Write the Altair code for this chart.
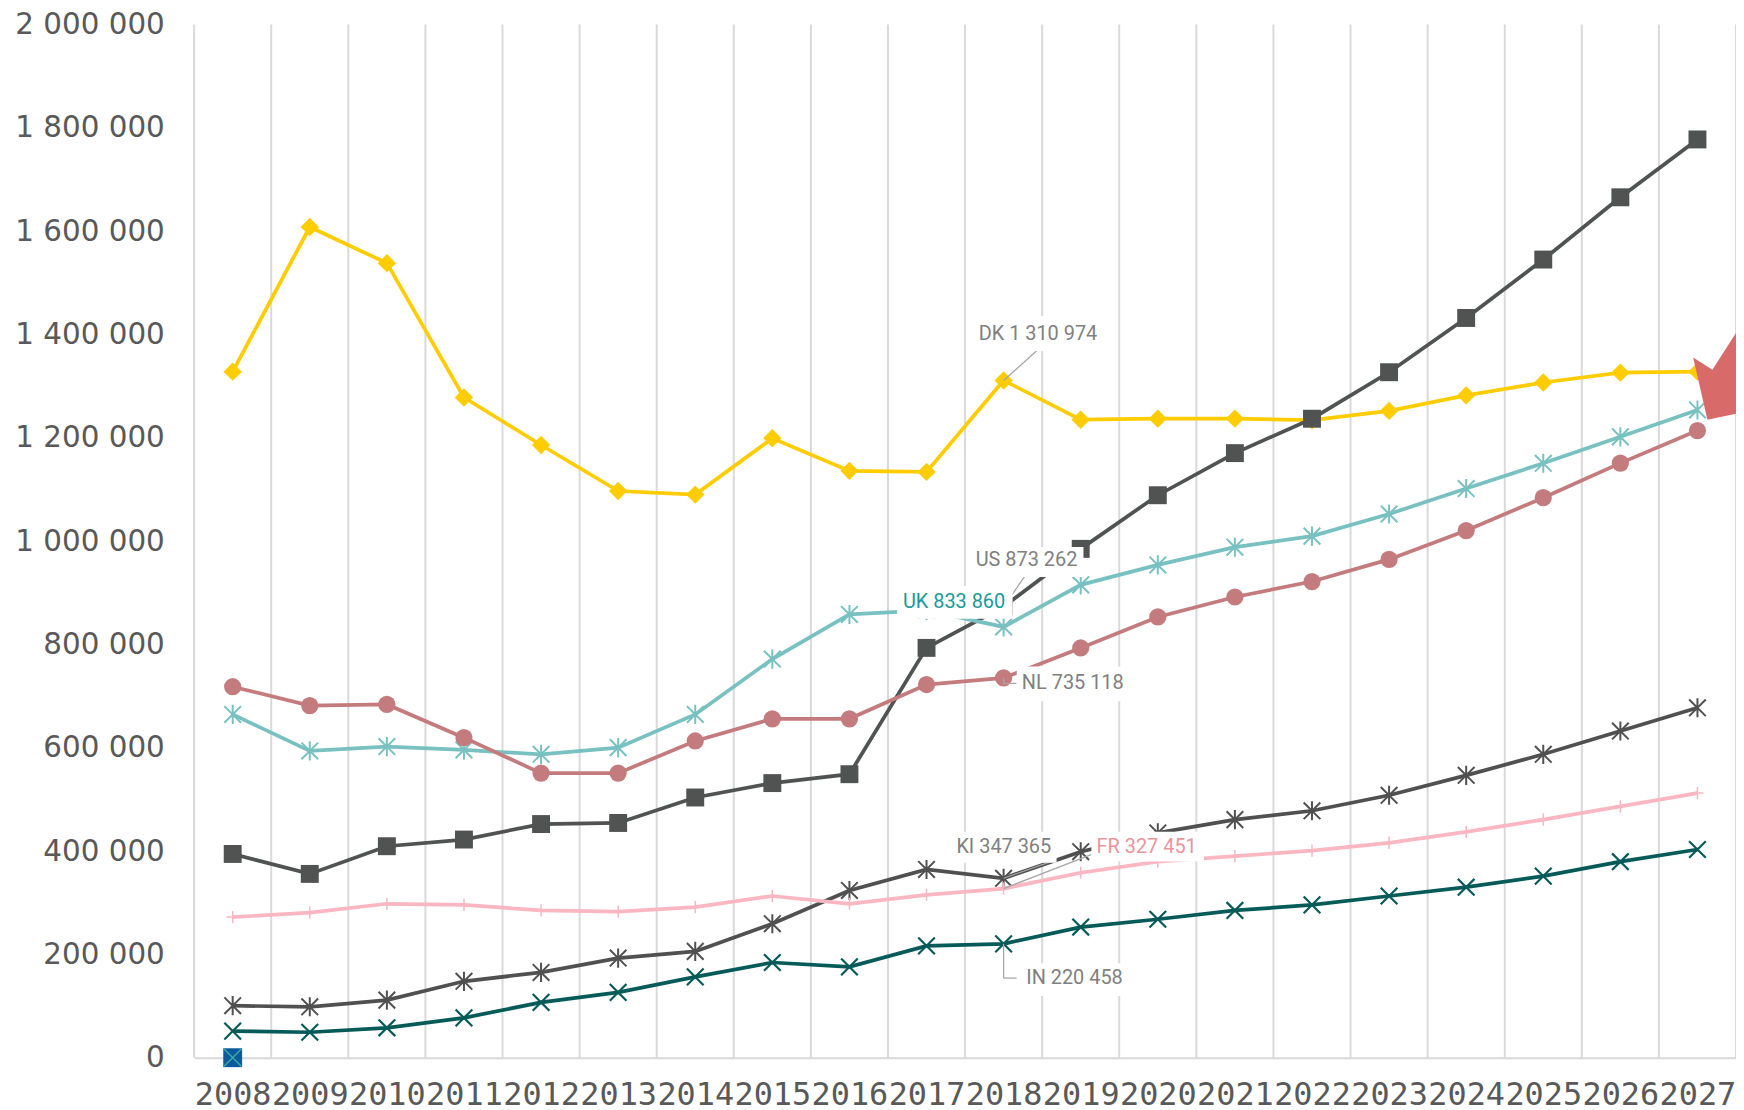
import altair as alt
import pandas as pd

# ---------------- data ----------------
YEARS = list(range(2008, 2028))

DK = [1328000, 1608000, 1538000, 1278000, 1186000, 1097000, 1090000, 1199000, 1136000, 1134000,
      1310974, 1235000, 1237000, 1237000, 1234000, 1252000, 1282000, 1307000, 1326000, 1328000]
US = [394400, 355800, 409400, 422300, 452300, 454400, 503700, 531600, 548800, 793300,
      873262, 985000, 1088800, 1170300, 1236900, 1326900, 1431900, 1545000, 1665500, 1777500]
UK = [664500, 593800, 602300, 595900, 587300, 600200, 664500, 771700, 858000, 866000,
      833860, 915300, 953900, 988200, 1009600, 1052500, 1101800, 1150700, 1201800, 1253800]
NL = [718100, 681700, 683800, 619500, 550900, 550900, 613100, 656000, 656000, 722400,
      735118, 793100, 853200, 891800, 921700, 964600, 1020400, 1084000, 1151000, 1214000]
KI = [100700, 98600, 111500, 147900, 165100, 192900, 205800, 259400, 323700, 364400,
      347365, 398700, 435100, 460900, 478000, 508000, 546600, 587300, 632400, 677400]
FR = [272200, 280800, 298000, 295800, 285100, 283000, 291500, 313000, 298000, 315100,
      327451, 358000, 379400, 390100, 400900, 415900, 437300, 460900, 486600, 512300]
IN = [51400, 49300, 57900, 77200, 107200, 126500, 156500, 184300, 175800, 216500,
      220458, 252900, 268000, 285100, 295800, 313000, 330100, 351500, 379400, 403000]

SERIES = ["DK", "US", "UK", "NL", "KI", "FR", "IN"]
VALUES = {"DK": DK, "US": US, "UK": UK, "NL": NL, "KI": KI, "FR": FR, "IN": IN}
Y_TICKS = list(range(0, 2000001, 200000))

LABEL_YEAR = 2018
LABEL_TEXT = {"DK": "DK 1 310 974", "US": "US 873 262", "UK": "UK 833 860", "NL": "NL 735 118",
              "KI": "KI 347 365", "FR": "FR 327 451", "IN": "IN 220 458"}

EXTRA_MARK = {"year": [2008], "value": [0]}         # lone marker at 2008 / 0
ARROW_TARGET = {"year": [2027], "value": [1235000]}  # red pointer at the right edge

# ---------------- styles ----------------
COLORS = {"DK": "#FFCC00", "US": "#505352", "UK": "#79C1C1", "NL": "#C47B7D",
          "KI": "#505050", "FR": "#FAB7C2", "IN": "#065B59"}
ASTER = "M-1,-1L1,1M-1,1L1,-1M0,-1.15L0,1.15"
XMARK = "M-1,-1L1,1M-1,1L1,-1"
PLUS = "M-1,0L1,0M0,-1L0,1"
MARKERS = {
    "DK": dict(shape="diamond", filled=True, size=340),
    "US": dict(shape="square", filled=True, size=324),
    "UK": dict(shape=ASTER, filled=False, size=280, strokeWidth=2),
    "NL": dict(shape="circle", filled=True, size=300),
    "KI": dict(shape=ASTER, filled=False, size=280, strokeWidth=2),
    "FR": dict(shape=PLUS, filled=False, size=150, strokeWidth=1.5),
    "IN": dict(shape=XMARK, filled=False, size=280, strokeWidth=2.2),
}
DRAW_ORDER = ["DK", "US", "UK", "NL", "KI", "FR", "IN"]

# label layout: text offset, box (dx, dy, w, h), leader polyline (pixel offsets from the point)
LAYOUT = {
    "DK": dict(color="#808080", t=(34.5, -46.6), box=(34.2, -47.1, 130, 35), lead=[(0, 0), (33, -29.6)]),
    "US": dict(color="#808080", t=(23, -46.8), box=(23.2, -44.8, 114, 30), lead=[(0, 0), (21, -30)]),
    "UK": dict(color="#1A9A9A", t=(-49.8, -25.5), box=(-49.0, -24.7, 116, 33), lead=[]),
    "NL": dict(color="#808080", t=(69.5, 5.5), box=(68.2, 6, 110, 35), lead=[(0, 0), (0, 5.5), (13, 5.5)]),
    "KI": dict(color="#808080", t=(0.2, -31.7), box=(-0.3, -31.2, 107, 31), lead=[(0, 0), (51, -18)]),
    "FR": dict(color="#E8969B", t=(143.7, -42.1), box=(144.7, -42.1, 113, 30), lead=[(0, 0), (88, -34)]),
    "IN": dict(color="#808080", t=(71.2, 34.4), box=(70.2, 35.9, 110, 33), lead=[(0, 0), (0, 34.4), (13, 34.4)]),
}
ARROW = "M0,0L-0.143,-0.626L0.05,-0.502L0.617,-1.384L1.003,-1.136L0.436,-0.254L0.629,-0.13Z"

# ---------------- encodings ----------------
XAXIS = alt.Axis(values=YEARS, format="d", grid=False, ticks=False, domain=True,
                 domainColor="#D9D9D9", domainWidth=2, labelFont="DejaVu Sans Mono",
                 labelFontSize=32, labelColor="#595959", labelPadding=22,
                 labelOverlap=False, labelFlush=False, title=None)
YAXIS = alt.Axis(values=Y_TICKS, grid=False, ticks=False, domain=False,
                 labelExpr="replace(format(datum.value, ','), regexp(',', 'g'), ' ')",
                 labelFont="DejaVu Sans", labelFontSize=29.5, labelColor="#595959",
                 labelPadding=30, labelOverlap=False, title=None)
X = alt.X("year:Q", scale=alt.Scale(domain=[YEARS[0] - 0.5, YEARS[-1] + 0.5], nice=False, zero=False), axis=XAXIS)
Y = alt.Y("value:Q", scale=alt.Scale(domain=[0, 2000000], nice=False), axis=YAXIS)

layers = []

# vertical grid lines between the years
grid_df = pd.DataFrame({"year": [y - 0.5 for y in YEARS] + [YEARS[-1] + 0.5]})
layers.append(alt.Chart(grid_df).mark_rule(color="#D9D9D9", strokeWidth=2).encode(x=X))

# series
for s in DRAW_ORDER:
    df = pd.DataFrame({"year": YEARS, "value": VALUES[s]})
    base = alt.Chart(df)
    layers.append(base.mark_line(color=COLORS[s], strokeWidth=3.75).encode(x=X, y=Y))
    m = MARKERS[s]
    layers.append(base.mark_point(color=COLORS[s], opacity=1, **m).encode(x=X, y=Y))

# lone marker at 2008 / 0
em = pd.DataFrame(EXTRA_MARK)
layers.append(alt.Chart(em).mark_point(shape="square", filled=True, color="#0B5A9E", size=360, opacity=1).encode(x=X, y=Y))
layers.append(alt.Chart(em).mark_point(shape=XMARK, filled=False, color="#3AAAA4", size=300, strokeWidth=1.5, opacity=1).encode(x=X, y=Y))

# annotations
idx = YEARS.index(LABEL_YEAR)
anchor = {s: pd.DataFrame({"year": [LABEL_YEAR], "value": [VALUES[s][idx]]}) for s in SERIES}

for s in SERIES:
    L = LAYOUT[s]
    pts = L["lead"]
    for a, b in zip(pts[:-1], pts[1:]):
        layers.append(alt.Chart(anchor[s]).mark_rule(
            color="#A6A6A6", strokeWidth=1.3,
            xOffset=a[0], x2Offset=b[0], yOffset=a[1], y2Offset=b[1]
        ).encode(x=X, x2=alt.X2("year"), y=Y, y2=alt.Y2("value")))

for s in SERIES:
    dx, dy, w, h = LAYOUT[s]["box"]
    layers.append(alt.Chart(anchor[s]).mark_rect(
        color="white", opacity=1,
        xOffset=dx - w / 2, x2Offset=dx + w / 2, yOffset=dy - h / 2, y2Offset=dy + h / 2
    ).encode(x=X, x2=alt.X2("year"), y=Y, y2=alt.Y2("value")))

for s in SERIES:
    L = LAYOUT[s]
    df = anchor[s].assign(label=LABEL_TEXT[s])
    layers.append(alt.Chart(df).mark_text(
        font="Roboto", fontSize=20, color=L["color"], align="center", baseline="middle",
        dx=L["t"][0], dy=L["t"][1]
    ).encode(x=X, y=Y, text="label:N"))

# red pointer
layers.append(alt.Chart(pd.DataFrame(ARROW_TARGET)).mark_point(
    shape=ARROW, size=40000, filled=True, color="#D96A6A", opacity=1, strokeWidth=0, xOffset=10
).encode(x=X, y=Y))

chart = alt.layer(*layers).properties(
    width=1549, height=1038,
    autosize=alt.AutoSizeParams(type="none"),
    padding={"left": 187, "top": 14, "right": 0, "bottom": 60},
).configure_view(stroke="transparent")

chart.save("out.html", embed_options={"renderer": "svg", "actions": False})
